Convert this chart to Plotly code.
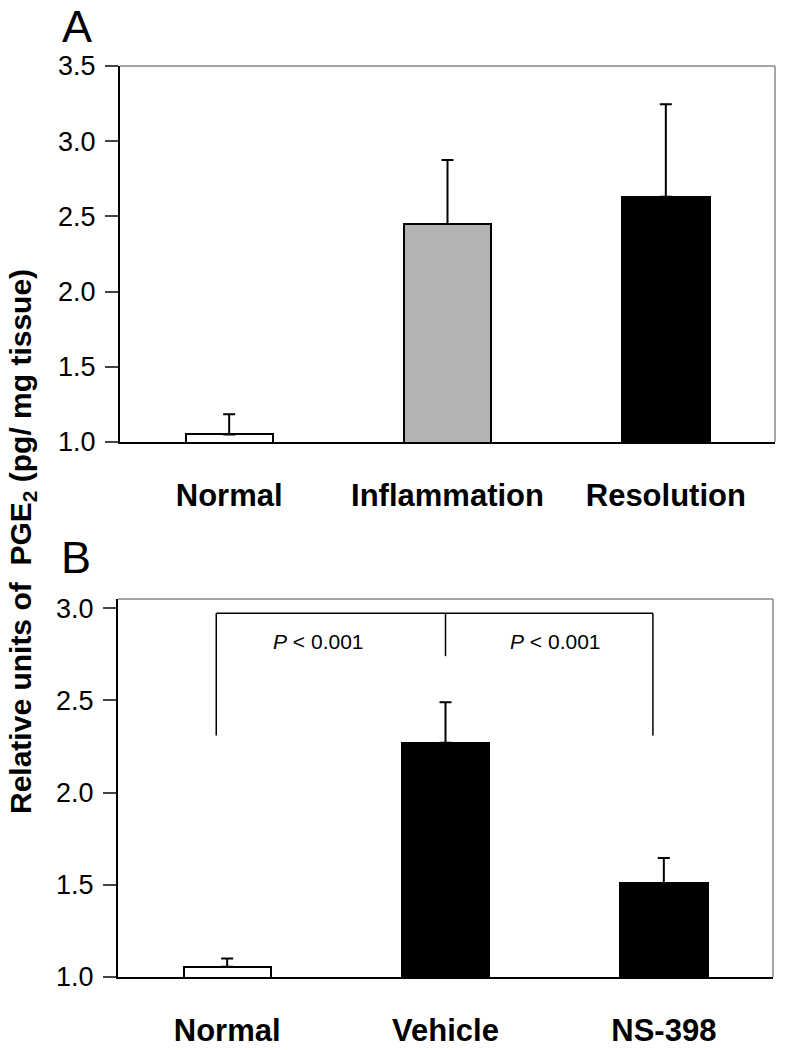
import plotly.graph_objects as go

# Panel A data
cats_a = ["Normal", "Inflammation", "Resolution"]
vals_a = [1.05, 2.45, 2.63]
err_a = [0.135, 0.425, 0.615]
colors_a = ["#ffffff", "#b3b3b3", "#000000"]

# Panel B data
cats_b = ["Normal", "Vehicle", "NS-398"]
vals_b = [1.055, 2.27, 1.51]
err_b = [0.045, 0.22, 0.135]
colors_b = ["#ffffff", "#000000", "#000000"]

yticks_a = [1.0, 1.5, 2.0, 2.5, 3.0, 3.5]
yticks_b = [1.0, 1.5, 2.0, 2.5, 3.0]

# significance brackets (panel B)
bracket_top = 2.973
bracket_left_x, bracket_left_bottom = -0.05, 2.31
bracket_mid_x, bracket_mid_bottom = 1.0, 2.74
bracket_right_x, bracket_right_bottom = 1.95, 2.31
p_labels = ["<i>P</i> < 0.001", "<i>P</i> < 0.001"]
p_x = [0.42, 1.505]
p_y = 2.82

W, H = 785, 1050
FONT = "Liberation Sans, Arial, sans-serif"

fig = go.Figure()
fig.add_trace(go.Bar(
    x=list(range(3)), y=vals_a, marker=dict(color=colors_a, line=dict(color="black", width=2)),
    width=0.4, error_y=dict(type="data", array=err_a, arrayminus=[0, 0, 0], symmetric=False,
                           color="black", thickness=2, width=6),
    xaxis="x", yaxis="y", showlegend=False, hoverinfo="skip"))
fig.add_trace(go.Bar(
    x=list(range(3)), y=vals_b, marker=dict(color=colors_b, line=dict(color="black", width=2)),
    width=0.4, error_y=dict(type="data", array=err_b, arrayminus=[0, 0, 0], symmetric=False,
                           color="black", thickness=2, width=6),
    xaxis="x2", yaxis="y2", showlegend=False, hoverinfo="skip"))

xa_dom = [120 / W, 775 / W]
xb_dom = [118 / W, 773 / W]
ya_dom = [(H - 442) / H, (H - 66) / H]
yb_dom = [(H - 977) / H, (H - 599) / H]

common_x = dict(range=[-0.5, 2.5], tickmode="array", tickvals=[0, 1, 2], ticks="",
                showline=True, linecolor="black", linewidth=2, showgrid=False, zeroline=False,
                automargin=False,
                tickfont=dict(family=FONT, size=31, color="black"), ticklabelstandoff=25)
common_y = dict(ticks="outside", ticklen=13, tickwidth=1.5, tickcolor="#444",
                showline=True, linecolor="black", linewidth=2, showgrid=False, zeroline=False,
                automargin=False,
                tickfont=dict(family=FONT, size=27, color="black"), ticklabelstandoff=4,
                tickformat=".1f")

fig.update_layout(
    template="none",
    width=W, height=H, margin=dict(l=0, r=0, t=0, b=0, pad=0),
    paper_bgcolor="white", plot_bgcolor="white", bargap=0, showlegend=False,
    xaxis=dict(domain=xa_dom, anchor="y", ticktext=[f"<b>{c}</b>" for c in cats_a], **common_x),
    yaxis=dict(domain=ya_dom, anchor="x", range=[1.0, 3.5], tickvals=yticks_a, **common_y),
    xaxis2=dict(domain=xb_dom, anchor="y2", ticktext=[f"<b>{c}</b>" for c in cats_b], **common_x),
    yaxis2=dict(domain=yb_dom, anchor="x2", range=[1.0, 3.05], tickvals=yticks_b, **common_y),
)

# gray top/right frame lines
for xr, yr in [("x", "y"), ("x2", "y2")]:
    fig.add_shape(type="line", xref=f"{xr} domain", yref=f"{yr} domain", x0=0, x1=1, y0=1, y1=1,
                  line=dict(color="#888", width=1.5))
    fig.add_shape(type="line", xref=f"{xr} domain", yref=f"{yr} domain", x0=1, x1=1, y0=0, y1=1,
                  line=dict(color="#888", width=1.5))

# brackets
bl = dict(color="black", width=1.5)
fig.add_shape(type="line", xref="x2", yref="y2", x0=bracket_left_x, x1=bracket_right_x,
              y0=bracket_top, y1=bracket_top, line=bl)
fig.add_shape(type="line", xref="x2", yref="y2", x0=bracket_left_x, x1=bracket_left_x,
              y0=bracket_left_bottom, y1=bracket_top, line=bl)
fig.add_shape(type="line", xref="x2", yref="y2", x0=bracket_mid_x, x1=bracket_mid_x,
              y0=bracket_mid_bottom, y1=bracket_top, line=bl)
fig.add_shape(type="line", xref="x2", yref="y2", x0=bracket_right_x, x1=bracket_right_x,
              y0=bracket_right_bottom, y1=bracket_top, line=bl)
for t, px in zip(p_labels, p_x):
    fig.add_annotation(x=px, y=p_y, xref="x2", yref="y2", text=t, showarrow=False,
                       font=dict(family=FONT, size=21, color="black"))

# panel letters
fig.add_annotation(x=60 / W, y=(H - 27) / H, xref="paper", yref="paper", text="A", showarrow=False,
                   xanchor="left", yanchor="middle", font=dict(family=FONT, size=45, color="black"))
fig.add_annotation(x=59 / W, y=(H - 557) / H, xref="paper", yref="paper", text="B", showarrow=False,
                   xanchor="left", yanchor="middle", font=dict(family=FONT, size=45, color="black"))

# shared y title
fig.add_annotation(x=22 / W, y=(H - 542) / H, xref="paper", yref="paper",
                   text="<b>Relative units of  PGE<sub>2</sub> (pg/ mg tissue)</b>", showarrow=False,
                   textangle=-90, xanchor="center", yanchor="middle",
                   font=dict(family=FONT, size=30, color="black"))

fig.write_html("out.html", config={"displayModeBar": False},
               post_script="document.body.style.margin='0';")
